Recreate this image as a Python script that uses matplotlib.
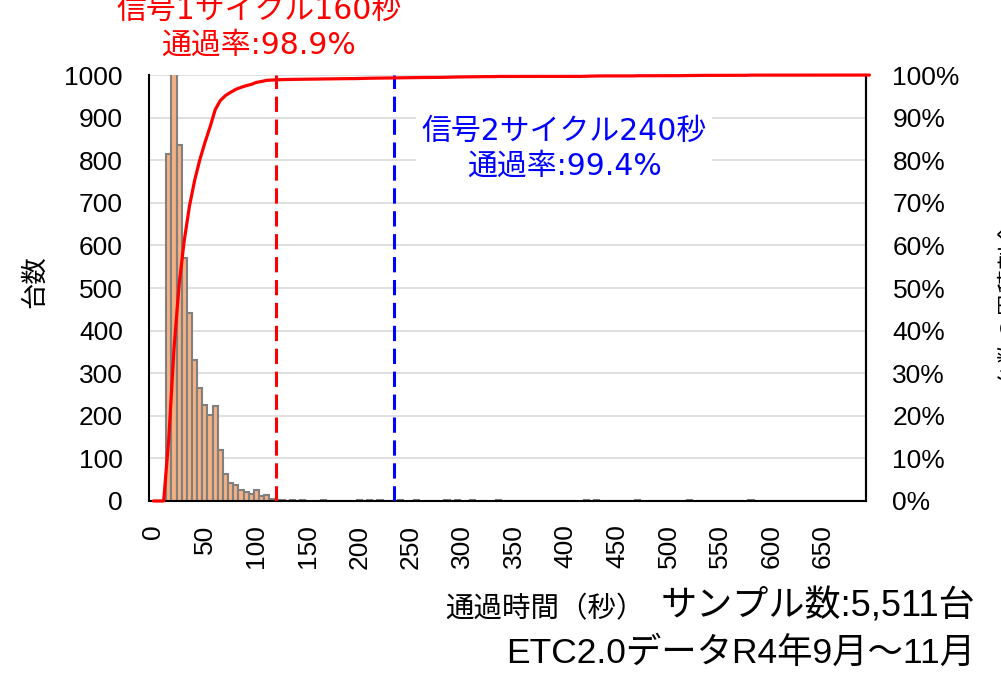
import matplotlib
matplotlib.use('Agg')
import matplotlib.pyplot as plt
import numpy as np

plt.rcParams['font.family'] = ['Liberation Sans', 'Noto Sans CJK JP']

# 5秒刻みの通過時間ヒストグラム (区間 k の中心 = 5k 秒)
bin_width = 5
n_bins = 140
head_counts = [0, 0, 0, 815, 1151, 836, 570, 441, 332, 266, 225, 202, 224,
               120, 64, 42, 38, 26, 21, 17, 26, 12, 15]
tail_bins = [23, 24, 25, 26, 27, 28, 29, 30, 31, 33, 34, 35, 38,
             40, 41, 42, 43, 44, 45, 46, 48, 50, 51,
             56, 57, 58, 59, 60, 61, 62, 64, 67, 82, 84, 85, 86, 87,
             94, 99, 103, 104, 106, 115, 116, 123]
tail_counts = [4, 3, 2, 1, 2, 1, 2, 1, 1, 2, 1, 1, 1,
               2, 1, 2, 1, 2, 1, 1, 2, 1, 2,
               1, 2, 1, 2, 1, 1, 2, 1, 2, 1, 2, 1, 2, 1,
               2, 1, 1, 2, 1, 1, 2, 1]

cycle1_sec = 119
cycle2_sec = 234
cycle1_text = '信号1サイクル160秒\n通過率:98.9%'
cycle2_text = '信号2サイクル240秒\n通過率:99.4%'

counts = np.zeros(n_bins)
counts[:len(head_counts)] = head_counts
counts[tail_bins] = tail_counts
centers = np.arange(n_bins) * bin_width
cum = np.cumsum(counts) / counts.sum() * 100

fig = plt.figure(figsize=(10.01, 6.75), dpi=100)
ax = fig.add_axes([0.1492, 0.2578, 0.716, 0.631])

ax.bar(centers, counts, width=bin_width, color='#F4B183',
       edgecolor='#808080', linewidth=1.5, zorder=2)
ax.set_xlim(-3.9, 691.7)
ax.set_ylim(0, 1000)
ax.set_yticks(np.arange(0, 1001, 100))
ax.set_xticks(np.arange(0, 651, 50))
ax.tick_params(axis='y', length=0, labelsize=19, pad=19)
ax.tick_params(axis='x', length=0, labelsize=19, pad=17, labelrotation=90)
ax.yaxis.grid(True, color='#D9D9D9', linewidth=1.2)
ax.set_axisbelow(True)
ax.spines['top'].set_visible(False)
for s in ['left', 'bottom', 'right']:
    ax.spines[s].set_linewidth(1.5)
    ax.spines[s].set_color('black')

ax.axvline(cycle1_sec, color='#FF0000', lw=2.2, ls=(0, (5, 2.5)), zorder=3)
ax.axvline(cycle2_sec, color='#0000FF', lw=2.2, ls=(0, (5, 2.5)), zorder=3)

ax2 = ax.twinx()
ax2.plot(centers, cum, color='#FF0000', lw=2.3, clip_on=False,
         solid_capstyle='round', zorder=4)
ax2.set_ylim(0, 100)
ax2.set_yticks(np.arange(0, 101, 10))
ax2.set_yticklabels([f'{v}%' for v in range(0, 101, 10)])
ax2.tick_params(axis='y', length=0, labelsize=19, pad=19)
for s in ['top', 'left', 'bottom']:
    ax2.spines[s].set_visible(False)
ax2.spines['right'].set_linewidth(1.5)

note_font = ['DejaVu Sans', 'Noto Sans CJK JP']
fig.text(259 / 1001, 1 - 28 / 675, cycle1_text, color='#FF0000',
         ha='center', va='center', ma='center', fontsize=21.5,
         linespacing=1.25, family=note_font)
fig.text(564 / 1001, 1 - 149 / 675, cycle2_text, color='#0000FF',
         ha='center', va='center', ma='center', fontsize=21.5,
         linespacing=1.25, family=note_font,
         bbox=dict(facecolor='white', edgecolor='none', pad=4))

fig.text(35 / 1001, 1 - 282 / 675, '台数', rotation=90,
         ha='center', va='center', fontsize=19)
fig.text(0.9985, 1 - 302 / 675, '台数の累積割合', rotation=90,
         ha='left', va='center', fontsize=17)

fig.text(645 / 1001, 1 - 610 / 675, '通過時間（秒）',
         ha='right', va='center', fontsize=20.5)
fig.text(975 / 1001, 1 - 607 / 675, 'サンプル数:5,511台',
         ha='right', va='center', fontsize=26)
fig.text(975 / 1001, 1 - 653 / 675, 'ETC2.0データR4年9月～11月',
         ha='right', va='center', fontsize=25.5)

fig.savefig('out.png', dpi=100)
